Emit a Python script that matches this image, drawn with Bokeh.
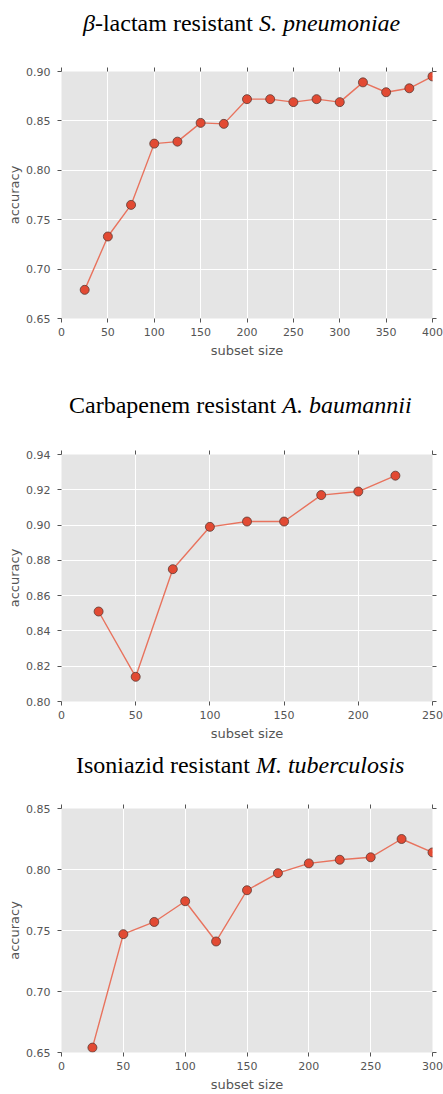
from bokeh.plotting import figure
from bokeh.models import Range1d, LinearAxis, FixedTicker, PrintfTickFormatter, Div
from bokeh.layouts import column
from bokeh.embed import file_html
from bokeh.resources import INLINE

# ---- data ----
sp_x = [25, 50, 75, 100, 125, 150, 175, 200, 225, 250, 275, 300, 325, 350, 375, 400]
sp_y = [0.679, 0.733, 0.765, 0.827, 0.829, 0.848, 0.847, 0.872, 0.872, 0.869,
        0.872, 0.869, 0.889, 0.879, 0.883, 0.895]
sp_xticks = [0, 50, 100, 150, 200, 250, 300, 350, 400]
sp_yticks = [0.65, 0.70, 0.75, 0.80, 0.85, 0.90]

ab_x = [25, 50, 75, 100, 125, 150, 175, 200, 225]
ab_y = [0.851, 0.814, 0.875, 0.899, 0.902, 0.902, 0.917, 0.919, 0.928]
ab_xticks = [0, 50, 100, 150, 200, 250]
ab_yticks = [0.80, 0.82, 0.84, 0.86, 0.88, 0.90, 0.92, 0.94]

mt_x = [25, 50, 75, 100, 125, 150, 175, 200, 225, 250, 275, 300]
mt_y = [0.654, 0.747, 0.757, 0.774, 0.741, 0.783, 0.797, 0.805, 0.808, 0.810,
        0.825, 0.814]
mt_xticks = [0, 50, 100, 150, 200, 250, 300]
mt_yticks = [0.65, 0.70, 0.75, 0.80, 0.85]

sp_title = "<i>\u03b2</i>-lactam resistant <i>S. pneumoniae</i>"
ab_title = "Carbapenem resistant <i>A. baumannii</i>"
mt_title = "Isoniazid resistant <i>M. tuberculosis</i>"

xlabel = "subset size"
ylabel = "accuracy"

# ---- style ----
W = 443
LEFT = 61
RIGHT = 11
TICK_C = "#555555"
LABEL_C = "#555555"


def title_div(html, height, pad_top, pad_left):
    style = ("font-family:'Liberation Serif';font-size:24px;line-height:24px;"
             "color:black;text-align:left;white-space:nowrap;margin:0;"
             f"padding-top:{pad_top}px;padding-left:{pad_left}px;")
    return Div(text=f'<div style="{style}">{html}</div>', width=W, height=height,
               margin=(0, 0, 0, 0))


def panel(xs, ys, xr, yr, xticks, yticks, frame_h, top, bottom):
    h = top + frame_h + bottom
    p = figure(width=W, height=h, output_backend="svg", toolbar_location=None,
               x_range=Range1d(*xr), y_range=Range1d(*yr),
               min_border_left=LEFT, min_border_right=RIGHT,
               min_border_top=top, min_border_bottom=bottom,
               x_axis_location=None, y_axis_location=None, margin=(0, 0, 0, 0))
    p.background_fill_color = "#E5E5E5"
    p.border_fill_color = "white"
    p.outline_line_color = None

    def style(ax, ticks, labels, lab_standoff=5, ax_standoff=3):
        ax.ticker = FixedTicker(ticks=ticks)
        ax.major_tick_in = 0
        ax.major_tick_out = 4
        ax.major_tick_line_color = TICK_C
        ax.major_tick_line_width = 1
        ax.minor_tick_line_color = None
        ax.axis_line_color = None
        if labels:
            ax.major_label_text_font = "DejaVu Sans"
            ax.major_label_text_font_size = "11px"
            ax.major_label_text_color = TICK_C
            ax.major_label_standoff = lab_standoff
            ax.axis_label_text_font = "DejaVu Sans"
            ax.axis_label_text_font_size = "13px"
            ax.axis_label_text_font_style = "normal"
            ax.axis_label_text_color = LABEL_C
            ax.axis_label_standoff = ax_standoff
        else:
            ax.major_label_text_color = None
            ax.major_label_text_font_size = "0px"
            ax.major_label_standoff = 0

    xb = LinearAxis(axis_label=xlabel)
    xt = LinearAxis()
    yl = LinearAxis(axis_label=ylabel, formatter=PrintfTickFormatter(format="%.2f"))
    yrr = LinearAxis()
    style(xb, xticks, True, 5, 4)
    style(yl, yticks, True, 7, 1)
    style(xt, xticks, False)
    style(yrr, yticks, False)
    p.add_layout(xb, "below")
    p.add_layout(xt, "above")
    p.add_layout(yl, "left")
    p.add_layout(yrr, "right")

    p.xgrid.ticker = FixedTicker(ticks=xticks)
    p.ygrid.ticker = FixedTicker(ticks=yticks)
    p.xgrid.grid_line_color = "white"
    p.ygrid.grid_line_color = "white"
    p.xgrid.grid_line_width = 1
    p.ygrid.grid_line_width = 1

    p.line(xs, ys, line_color="#E8735E", line_width=1.4)
    p.scatter(xs, ys, size=9, fill_color="#E24A33", line_color="#5a3a33",
              line_width=0.8)
    return p


d1 = title_div(sp_title, 63, 11, 83)
p1 = panel(sp_x, sp_y, (0, 400), (0.65, 0.90), sp_xticks, sp_yticks, 247, 8, 46)
d2 = title_div(ab_title, 82, 29, 69)
p2 = panel(ab_x, ab_y, (0, 250), (0.80, 0.94), ab_xticks, ab_yticks, 247, 8, 45)
d3 = title_div(mt_title, 54, 7, 76)
p3 = panel(mt_x, mt_y, (0, 300), (0.65, 0.85), mt_xticks, mt_yticks, 246, 8, 40)

layout = column(d1, p1, d2, p2, d3, p3, spacing=0)
open("out.html", "w").write(file_html(layout, INLINE))
